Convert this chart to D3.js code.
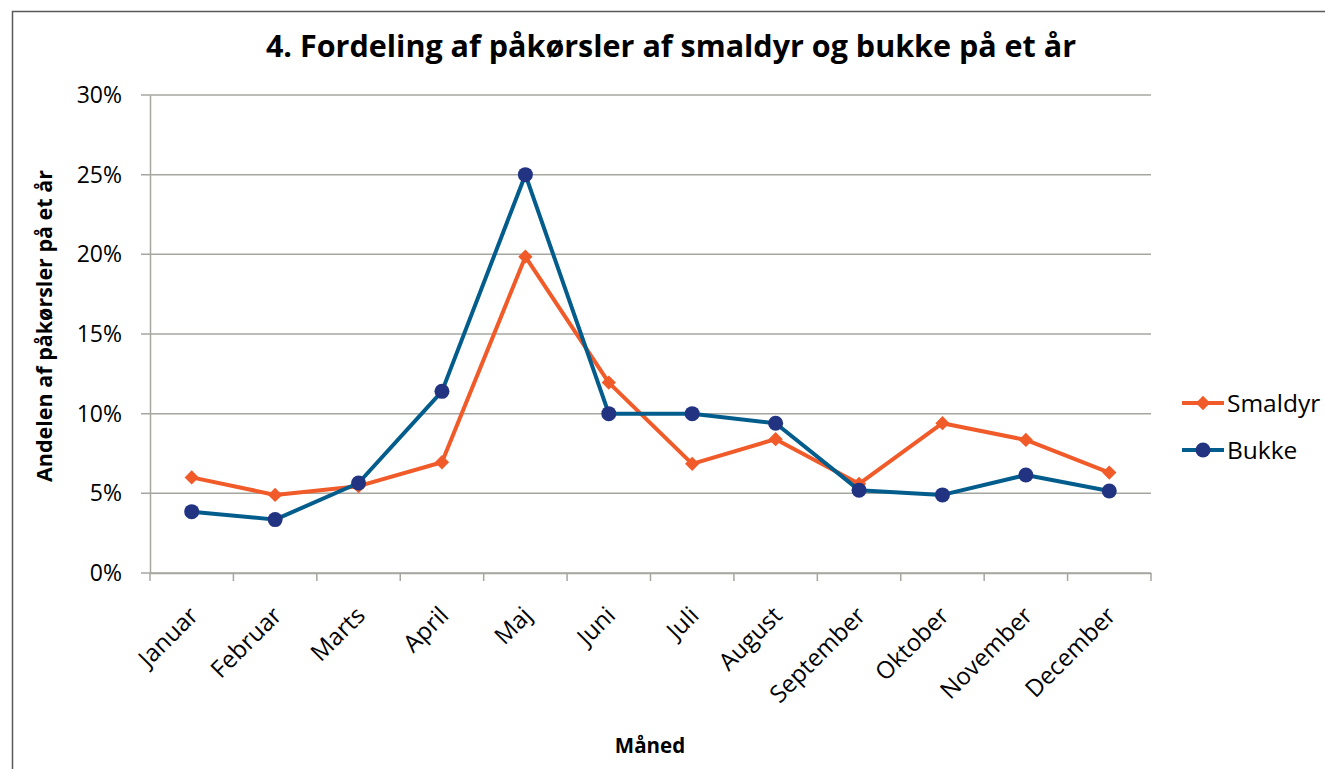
<!DOCTYPE html>
<html>
<head>
<meta charset="utf-8">
<script src="https://cdn.jsdelivr.net/npm/d3@7"></script>
<style>
  body { margin: 0; background: #fff; }
  svg { font-family: "Open Sans", "Noto Sans", sans-serif; }
</style>
</head>
<body>
<svg id="chart" width="1325" height="769"></svg>
<script>
var months = ["Januar", "Februar", "Marts", "April", "Maj", "Juni", "Juli", "August", "September", "Oktober", "November", "December"];
var smaldyr = [6.0, 4.9, 5.45, 6.95, 19.85, 11.95, 6.85, 8.4, 5.6, 9.4, 8.35, 6.3];
var bukke = [3.85, 3.35, 5.65, 11.4, 25.0, 10.0, 10.0, 9.4, 5.2, 4.9, 6.15, 5.15];
var yTicks = [0, 5, 10, 15, 20, 25, 30];

var svg = d3.select("#chart"),
    margin = {top: 95, left: 150, right: 174, bottom: 196},
    width = 1325 - margin.left - margin.right,
    height = 769 - margin.top - margin.bottom;

var font = "'Open Sans', 'Noto Sans', sans-serif";

// outer chart border
svg.append("rect")
    .attr("x", 12.5).attr("y", 11.5)
    .attr("width", 1330).attr("height", 800)
    .attr("fill", "none").attr("stroke", "#595959").attr("stroke-width", 1.5);

var x = d3.scaleBand().domain(months).range([0, width]);
var y = d3.scaleLinear().domain([0, 30]).range([height, 0]);

var g = svg.append("g")
    .attr("transform", "translate(" + margin.left + "," + margin.top + ")");

// gridlines
g.selectAll(".grid")
    .data(yTicks)
  .enter().append("line")
    .attr("class", "grid")
    .attr("x1", -9).attr("x2", width)
    .attr("y1", function(d) { return y(d); })
    .attr("y2", function(d) { return y(d); })
    .attr("stroke", "#a6a6a0").attr("stroke-width", 1.5);

// y axis
var yAxis = g.append("g")
    .call(d3.axisLeft(y).tickValues(yTicks).tickSize(0).tickPadding(28)
      .tickFormat(function(d) { return d + "%"; }));
yAxis.attr("font-family", font).attr("font-size", 23);
yAxis.select(".domain").attr("stroke", "#a6a6a0").attr("stroke-width", 1.5);
yAxis.selectAll("text").attr("fill", "#000");

// x axis
var xAxis = g.append("g")
    .attr("transform", "translate(0," + height + ")")
    .call(d3.axisBottom(x).tickSize(0).tickFormat(""));
xAxis.select(".domain").attr("stroke", "#a6a6a0").attr("stroke-width", 1.5);

g.selectAll(".xtick")
    .data(d3.range(months.length + 1))
  .enter().append("line")
    .attr("class", "xtick")
    .attr("x1", function(i) { return i * x.bandwidth(); })
    .attr("x2", function(i) { return i * x.bandwidth(); })
    .attr("y1", height).attr("y2", height + 8)
    .attr("stroke", "#a6a6a0").attr("stroke-width", 1.5);

g.selectAll(".xlabel")
    .data(months)
  .enter().append("text")
    .attr("class", "xlabel")
    .attr("text-anchor", "end")
    .attr("transform", function(d) {
      return "translate(" + (x(d) + x.bandwidth() / 2 + 8) + "," + (height + 44) + ") rotate(-45)";
    })
    .style("font-size", "24px")
    .text(function(d) { return d; });

var line = d3.line()
    .x(function(d, i) { return x(months[i]) + x.bandwidth() / 2; })
    .y(function(d) { return y(d); });

// Smaldyr
g.append("path")
    .datum(smaldyr)
    .attr("fill", "none").attr("stroke", "#f15a29").attr("stroke-width", 4)
    .attr("stroke-linejoin", "round")
    .attr("d", line);

g.selectAll(".dia")
    .data(smaldyr)
  .enter().append("path")
    .attr("class", "dia")
    .attr("d", d3.symbol().type(d3.symbolDiamond2).size(130))
    .attr("transform", function(d, i) {
      return "translate(" + (x(months[i]) + x.bandwidth() / 2) + "," + y(d) + ")";
    })
    .attr("fill", "#f15a29");

// Bukke
g.append("path")
    .datum(bukke)
    .attr("fill", "none").attr("stroke", "#035d8c").attr("stroke-width", 4)
    .attr("stroke-linejoin", "round")
    .attr("d", line);

g.selectAll(".dot")
    .data(bukke)
  .enter().append("circle")
    .attr("class", "dot")
    .attr("cx", function(d, i) { return x(months[i]) + x.bandwidth() / 2; })
    .attr("cy", function(d) { return y(d); })
    .attr("r", 7.5)
    .attr("fill", "#223382");

// title
svg.append("text")
    .attr("x", 671).attr("y", 57)
    .attr("text-anchor", "middle")
    .style("font-size", "30.5px").style("font-weight", "bold")
    .text("4. Fordeling af påkørsler af smaldyr og bukke på et år");

// axis titles
svg.append("text")
    .attr("transform", "translate(52,326) rotate(-90)")
    .attr("text-anchor", "middle")
    .style("font-size", "21.5px").style("font-weight", "bold")
    .text("Andelen af påkørsler på et år");

svg.append("text")
    .attr("x", 650).attr("y", 753)
    .attr("text-anchor", "middle")
    .style("font-size", "20.5px").style("font-weight", "bold")
    .text("Måned");

// legend
var legend = svg.append("g").attr("transform", "translate(1182,403)");
var series = [
  {name: "Smaldyr", line: "#f15a29", mark: "#f15a29", dia: true},
  {name: "Bukke", line: "#035d8c", mark: "#223382", dia: false}
];
var items = legend.selectAll(".leg")
    .data(series)
  .enter().append("g")
    .attr("transform", function(d, i) { return "translate(0," + i * 47 + ")"; });
items.append("line")
    .attr("x1", 0).attr("x2", 42)
    .attr("stroke", function(d) { return d.line; }).attr("stroke-width", 4);
items.each(function(d) {
  var it = d3.select(this);
  if (d.dia) {
    it.append("path")
      .attr("d", d3.symbol().type(d3.symbolDiamond2).size(130))
      .attr("transform", "translate(21,0)")
      .attr("fill", d.mark);
  } else {
    it.append("circle").attr("cx", 21).attr("r", 7.5).attr("fill", d.mark);
  }
});
items.append("text")
    .attr("x", 45).attr("dy", "0.35em")
    .style("font-size", "24.5px")
    .text(function(d) { return d.name; });
</script>
</body>
</html>
